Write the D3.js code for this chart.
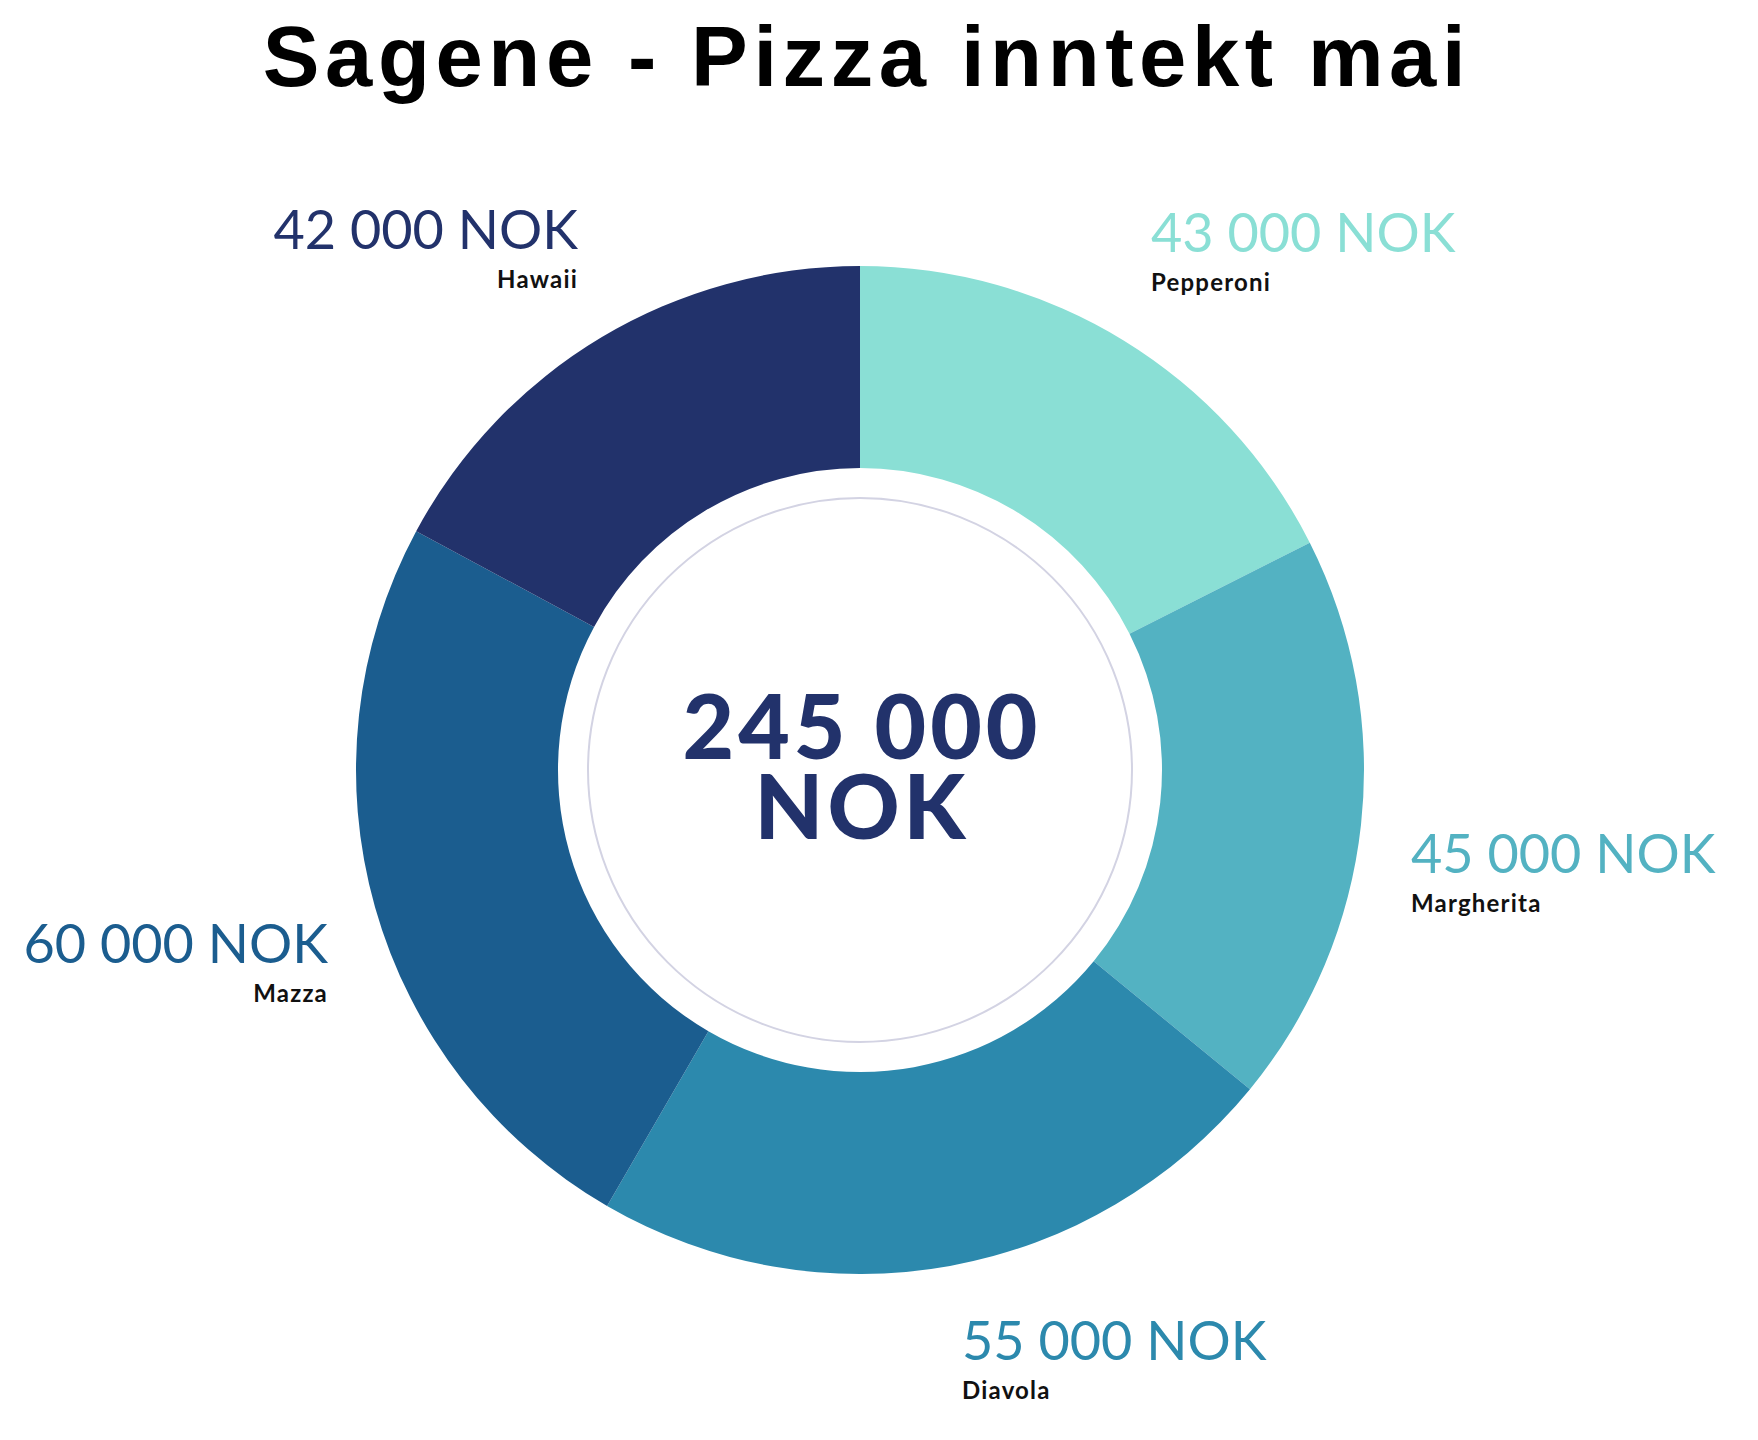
<!DOCTYPE html>
<html>
<head>
<meta charset="utf-8">
<script src="https://cdn.jsdelivr.net/npm/d3@7"></script>
<style>
  html, body { margin: 0; padding: 0; background: #fff; }
  svg { display: block; }
</style>
</head>
<body>
<script>
// ---- data ----
const categories = ["Pepperoni", "Margherita", "Diavola", "Mazza", "Hawaii"];
const values = [43000, 45000, 55000, 60000, 42000];
const colors = ["#8ADFD5", "#53B2C2", "#2C89AD", "#1B5D8F", "#22326B"];
const titleText = "Sagene - Pizza inntekt mai";
const currency = "NOK";

// ---- layout ----
const W = 1758, H = 1440;
const cx = 860, cy = 770;
const outerR = 504, innerR = 302, ringR = 272;
// label anchor points (value baseline) per category
const labelLayout = {
  "Pepperoni":  { x: 1151, y: 252, anchor: "start" },
  "Margherita": { x: 1411, y: 873, anchor: "start" },
  "Diavola":    { x: 962,  y: 1360, anchor: "start" },
  "Mazza":      { x: 328,  y: 963, anchor: "end" },
  "Hawaii":     { x: 578,  y: 249, anchor: "end" }
};

const fmt = v => d3.format(",")(v).replace(/,/g, " ");

const svg = d3.select("body").append("svg")
  .attr("width", W).attr("height", H);

svg.append("text")
  .attr("x", 867).attr("y", 86)
  .attr("text-anchor", "middle")
  .style("font-family", "'Liberation Sans', Arial, sans-serif")
  .style("font-weight", 700)
  .style("font-size", "85px")
  .style("letter-spacing", "5.6px")
  .attr("fill", "#000")
  .text(titleText);

const data = categories.map((c, i) => ({ name: c, value: values[i], color: colors[i] }));

const pie = d3.pie().sort(null).value(d => d.value).startAngle(0).endAngle(2 * Math.PI);
const arc = d3.arc().innerRadius(innerR).outerRadius(outerR);

const g = svg.append("g").attr("transform", `translate(${cx},${cy})`);

g.selectAll("path.slice")
  .data(pie(data))
  .join("path")
  .attr("class", "slice")
  .attr("d", arc)
  .attr("fill", d => d.data.color);

g.append("circle")
  .attr("r", ringR)
  .attr("fill", "none")
  .attr("stroke", "#d3d3e3")
  .attr("stroke-width", 2);

const total = d3.sum(values);
const centerFont = "Lato, 'Open Sans', sans-serif";
const center = g.append("text")
  .attr("text-anchor", "middle")
  .style("font-family", centerFont)
  .style("font-weight", 900)
  .style("font-size", "89px")
  .style("letter-spacing", "4px")
  .attr("fill", "#22326B");
center.append("tspan").attr("x", 2).attr("y", -11).text(fmt(total));
center.append("tspan").attr("x", 2).attr("y", 69).text(currency);

const labels = svg.append("g").selectAll("g.label")
  .data(data)
  .join("g")
  .attr("class", "label");

labels.append("text")
  .attr("x", d => labelLayout[d.name].x)
  .attr("y", d => labelLayout[d.name].y)
  .attr("text-anchor", d => labelLayout[d.name].anchor)
  .style("font-family", "Lato, sans-serif")
  .style("font-weight", 400)
  .style("font-size", "54px")
  .attr("fill", d => d.color)
  .text(d => fmt(d.value) + " " + currency);

labels.append("text")
  .attr("x", d => labelLayout[d.name].x)
  .attr("y", d => labelLayout[d.name].y + 39)
  .attr("text-anchor", d => labelLayout[d.name].anchor)
  .style("font-family", "Lato, sans-serif")
  .style("font-weight", 700)
  .style("font-size", "24px")
  .style("letter-spacing", "1.2px")
  .attr("fill", "#111")
  .text(d => d.name);
</script>
</body>
</html>
